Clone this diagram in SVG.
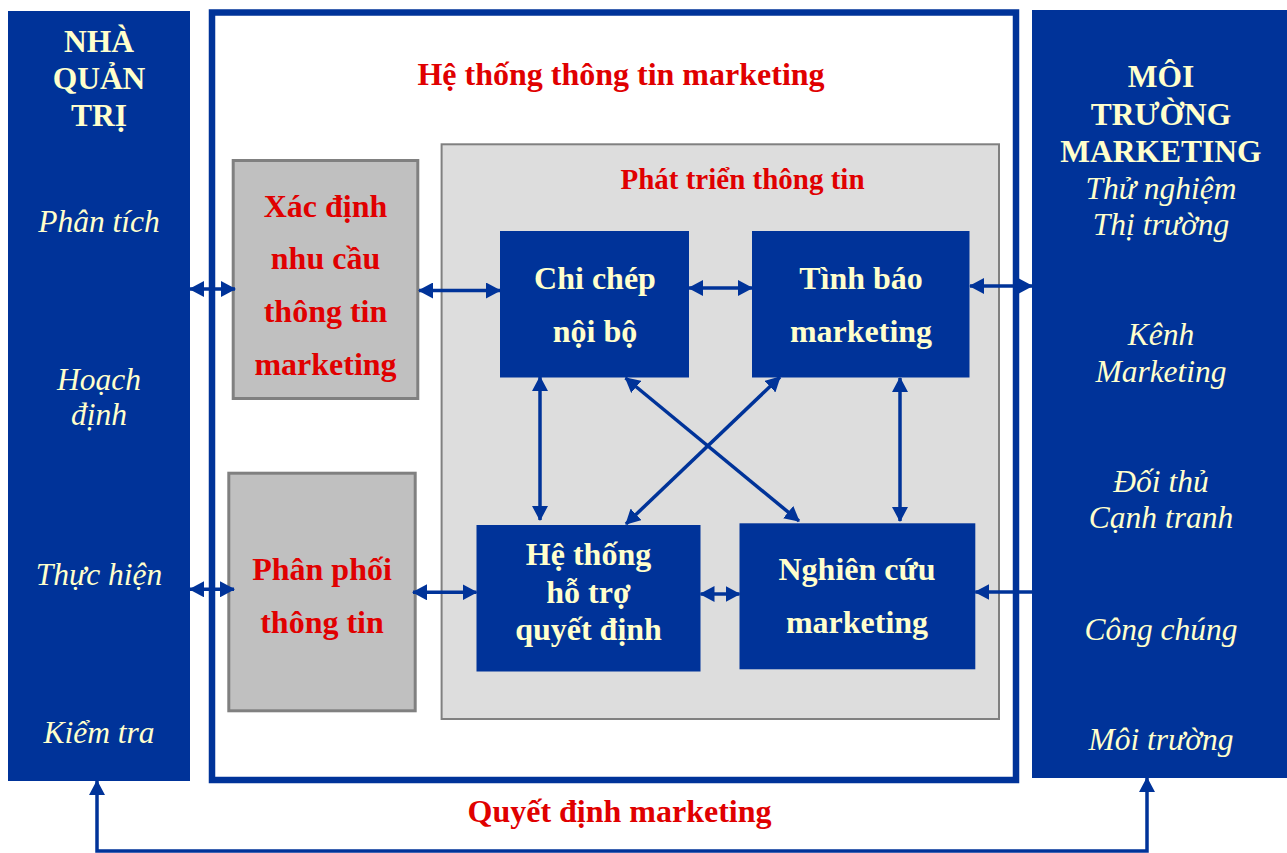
<svg xmlns="http://www.w3.org/2000/svg" width="1287" height="853" viewBox="0 0 1287 853">
<defs>
<marker id="ah" markerUnits="userSpaceOnUse" markerWidth="15" markerHeight="16" refX="14" refY="8" orient="auto-start-reverse">
<path d="M0,0 L15,8 L0,16 z" fill="#003399"/>
</marker>
<style>
.panel{fill:#003399}
.frame{fill:#ffffff;stroke:#003399;stroke-width:6.5}
.gbox{fill:#c0c0c0;stroke:#808080;stroke-width:3}
.lbox{fill:#dddddd;stroke:#808080;stroke-width:2}
.bbox{fill:#003399}
.hd{font-family:"Liberation Serif","Times New Roman",serif;font-weight:bold;font-size:31.5px;fill:#ffffcc;text-anchor:middle}
.it{font-family:"Liberation Serif","Times New Roman",serif;font-style:italic;font-size:31.5px;fill:#ffffcc;text-anchor:middle}
.rd{font-family:"Liberation Serif","Times New Roman",serif;font-weight:bold;font-size:32px;fill:#e00000;text-anchor:middle}
.bt{font-family:"Liberation Serif","Times New Roman",serif;font-weight:bold;font-size:32px;fill:#ffffcc;text-anchor:middle}
.cn{fill:none;stroke:#003399;stroke-width:3.5}
</style>
</defs>
<rect width="1287" height="853" fill="#ffffff"/>

<g id="frame">
<rect class="frame" x="212" y="12.5" width="804" height="767.5"/>
<text class="rd" x="621" y="85">Hệ thống thông tin marketing</text>
</g>

<g id="nha-quan-tri">
<rect class="panel" x="8" y="11" width="182" height="770"/>
<text class="hd" x="99" y="52">NHÀ</text>
<text class="hd" x="99" y="89">QUẢN</text>
<text class="hd" x="99" y="126">TRỊ</text>
<text class="it" x="99" y="232">Phân tích</text>
<text class="it" x="99" y="390">Hoạch</text>
<text class="it" x="99" y="425">định</text>
<text class="it" x="99" y="585">Thực hiện</text>
<text class="it" x="99" y="743">Kiểm tra</text>
</g>

<g id="moi-truong">
<rect class="panel" x="1032" y="10" width="255" height="768"/>
<text class="hd" x="1161" y="87">MÔI</text>
<text class="hd" x="1161" y="125">TRƯỜNG</text>
<text class="hd" x="1161" y="162">MARKETING</text>
<text class="it" x="1161" y="199">Thử nghiệm</text>
<text class="it" x="1161" y="235">Thị trường</text>
<text class="it" x="1161" y="345">Kênh</text>
<text class="it" x="1161" y="382">Marketing</text>
<text class="it" x="1161" y="492">Đối thủ</text>
<text class="it" x="1161" y="528">Cạnh tranh</text>
<text class="it" x="1161" y="640">Công chúng</text>
<text class="it" x="1161" y="750">Môi trường</text>
</g>

<g id="xac-dinh">
<rect class="gbox" x="233.2" y="160.5" width="184.6" height="238"/>
<text class="rd" x="325.5" y="217">Xác định</text>
<text class="rd" x="325.5" y="268.5">nhu cầu</text>
<text class="rd" x="325.5" y="322">thông tin</text>
<text class="rd" x="325.5" y="375">marketing</text>
</g>

<g id="phan-phoi">
<rect class="gbox" x="228.8" y="473.2" width="186.4" height="237.6"/>
<text class="rd" x="322" y="580">Phân phối</text>
<text class="rd" x="322" y="633">thông tin</text>
</g>

<g id="phat-trien">
<rect class="lbox" x="441.6" y="144.3" width="557.4" height="574.7"/>
<text class="rd" x="742.5" y="189" style="font-size:29px">Phát triển thông tin</text>
</g>

<g id="chi-chep">
<rect class="bbox" x="500" y="231" width="189" height="146.5"/>
<text class="bt" x="595" y="289">Chi chép</text>
<text class="bt" x="595" y="341.5">nội bộ</text>
</g>

<g id="tinh-bao">
<rect class="bbox" x="752" y="231" width="217.5" height="146.5"/>
<text class="bt" x="861" y="289">Tình báo</text>
<text class="bt" x="861" y="341.5">marketing</text>
</g>

<g id="he-thong">
<rect class="bbox" x="476.5" y="525" width="224" height="146.5"/>
<text class="bt" x="588.5" y="565">Hệ thống</text>
<text class="bt" x="588.5" y="602.5">hỗ trợ</text>
<text class="bt" x="588.5" y="639.5">quyết định</text>
</g>

<g id="nghien-cuu">
<rect class="bbox" x="739.5" y="523.3" width="235.8" height="146"/>
<text class="bt" x="857" y="580">Nghiên cứu</text>
<text class="bt" x="857" y="633">marketing</text>
</g>

<g id="connectors">
<line class="cn" x1="190" y1="289" x2="235" y2="289" marker-start="url(#ah)" marker-end="url(#ah)"/>
<line class="cn" x1="419" y1="290.5" x2="500" y2="290.5" marker-start="url(#ah)" marker-end="url(#ah)"/>
<line class="cn" x1="689" y1="288" x2="752" y2="288" marker-start="url(#ah)" marker-end="url(#ah)"/>
<line class="cn" x1="970" y1="286" x2="1032" y2="286" marker-start="url(#ah)" marker-end="url(#ah)"/>
<line class="cn" x1="540" y1="377" x2="540" y2="520" marker-start="url(#ah)" marker-end="url(#ah)"/>
<line class="cn" x1="900" y1="378" x2="900" y2="521" marker-start="url(#ah)" marker-end="url(#ah)"/>
<line class="cn" x1="625.5" y1="378" x2="799" y2="521" marker-start="url(#ah)" marker-end="url(#ah)"/>
<line class="cn" x1="780" y1="377" x2="626" y2="524" marker-start="url(#ah)" marker-end="url(#ah)"/>
<line class="cn" x1="190" y1="589.3" x2="234" y2="589.3" marker-start="url(#ah)" marker-end="url(#ah)"/>
<line class="cn" x1="413" y1="592.3" x2="476.5" y2="592.3" marker-start="url(#ah)" marker-end="url(#ah)"/>
<line class="cn" x1="700.5" y1="594" x2="739.5" y2="594" marker-start="url(#ah)" marker-end="url(#ah)"/>
<line class="cn" x1="1032" y1="592" x2="975.3" y2="592" marker-end="url(#ah)"/>
<path class="cn" d="M97,781 L97,851 L1147,851 L1147,778" marker-start="url(#ah)" marker-end="url(#ah)"/>
</g>

<g id="bottom-label">
<text class="rd" x="619.5" y="822">Quyết định marketing</text>
</g>
</svg>
